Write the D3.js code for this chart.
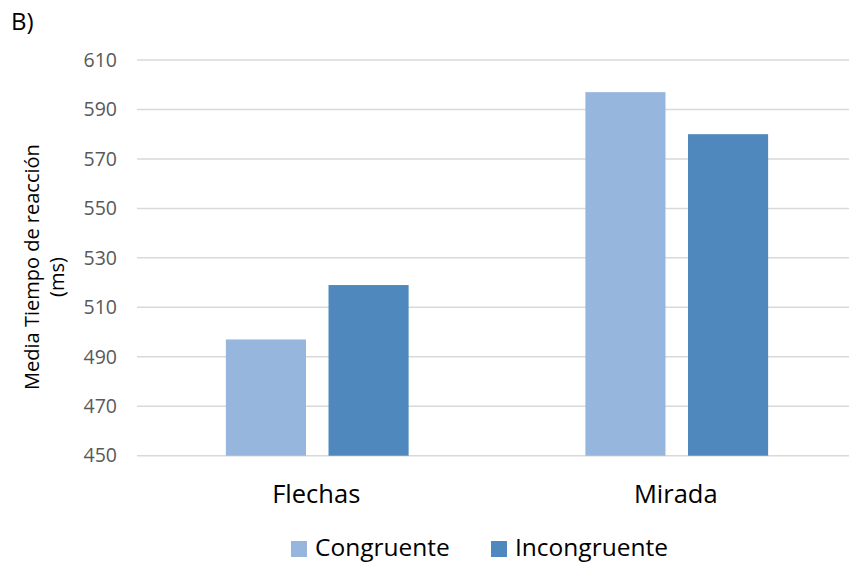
<!DOCTYPE html>
<html>
<head>
<meta charset="utf-8">
<script src="https://cdn.jsdelivr.net/npm/d3@7"></script>
<style>
  html, body { margin: 0; padding: 0; background: #fff; }
  svg { display: block; font-family: "Open Sans", "Liberation Sans", sans-serif; }
</style>
</head>
<body>
<svg id="chart" width="849" height="562"></svg>
<script>
// Reaction-time means per task and condition
const categories = ["Flechas", "Mirada"];
const series = ["Congruente", "Incongruente"];
const congruente = [497, 597];
const incongruente = [519, 580];
const yTicks = [450, 470, 490, 510, 530, 550, 570, 590, 610];
const colors = ["#96b6de", "#4f88bd"];

const data = categories.map((c, i) => ({
  category: c,
  values: [
    { key: series[0], value: congruente[i] },
    { key: series[1], value: incongruente[i] }
  ]
}));

const svg = d3.select("#chart");

const y = d3.scaleLinear().domain([450, 610]).range([455.7, 60]);
const x = d3.scaleBand().domain(categories).range([137.5, 856.5]).paddingInner(0).paddingOuter(0);
const xInner = d3.scaleBand().domain(series).range([0, x.bandwidth()])
  .paddingInner(0.2195).paddingOuter(0.861);

// Horizontal gridlines
svg.append("g").selectAll("line").data(yTicks).join("line")
  .attr("x1", 137).attr("x2", 849)
  .attr("y1", d => y(d)).attr("y2", d => y(d))
  .attr("stroke", "#d9d9d9").attr("stroke-width", 1.5);

// Y axis labels
const yAxis = svg.append("g").attr("transform", "translate(137,0)")
  .call(d3.axisLeft(y).tickValues(yTicks).tickSize(0).tickPadding(20));
yAxis.select(".domain").remove();
yAxis.selectAll("text")
  .attr("fill", "#595959")
  .style("font-size", "19.5px")
  .style("font-family", "'Open Sans', sans-serif");

// Bars
const groups = svg.append("g").selectAll("g").data(data).join("g")
  .attr("transform", d => `translate(${x(d.category)},0)`);
groups.selectAll("rect").data(d => d.values).join("rect")
  .attr("x", d => xInner(d.key))
  .attr("width", xInner.bandwidth())
  .attr("y", d => y(d.value))
  .attr("height", d => y(450) - y(d.value))
  .attr("fill", (d, i) => colors[i]);

// Category labels
svg.append("g").selectAll("text").data(categories).join("text")
  .attr("x", d => x(d) + x.bandwidth() / 2 - 1)
  .attr("y", 503)
  .attr("text-anchor", "middle")
  .attr("fill", "#000")
  .style("font-size", "25.5px")
  .text(d => d);

// Y axis title (two lines, rotated)
const title = svg.append("g").attr("fill", "#000").style("font-size", "20px");
title.append("text")
  .attr("transform", "translate(39,267) rotate(-90)")
  .attr("text-anchor", "middle")
  .text("Media Tiempo de reacción");
title.append("text")
  .attr("transform", "translate(64,277) rotate(-90)")
  .attr("text-anchor", "middle")
  .text("(ms)");

// Panel label
svg.append("text").attr("x", 11).attr("y", 30)
  .attr("fill", "#000").style("font-size", "24px").text("B)");

// Legend
const legendX = [291, 491];
const legend = svg.append("g").selectAll("g").data(series).join("g")
  .attr("transform", (d, i) => `translate(${legendX[i]},541)`);
legend.append("rect").attr("width", 16).attr("height", 16)
  .attr("fill", (d, i) => colors[i]);
legend.append("text").attr("x", 24).attr("y", 14.5)
  .attr("fill", "#000").style("font-size", "24.5px")
  .text(d => d);
</script>
</body>
</html>
